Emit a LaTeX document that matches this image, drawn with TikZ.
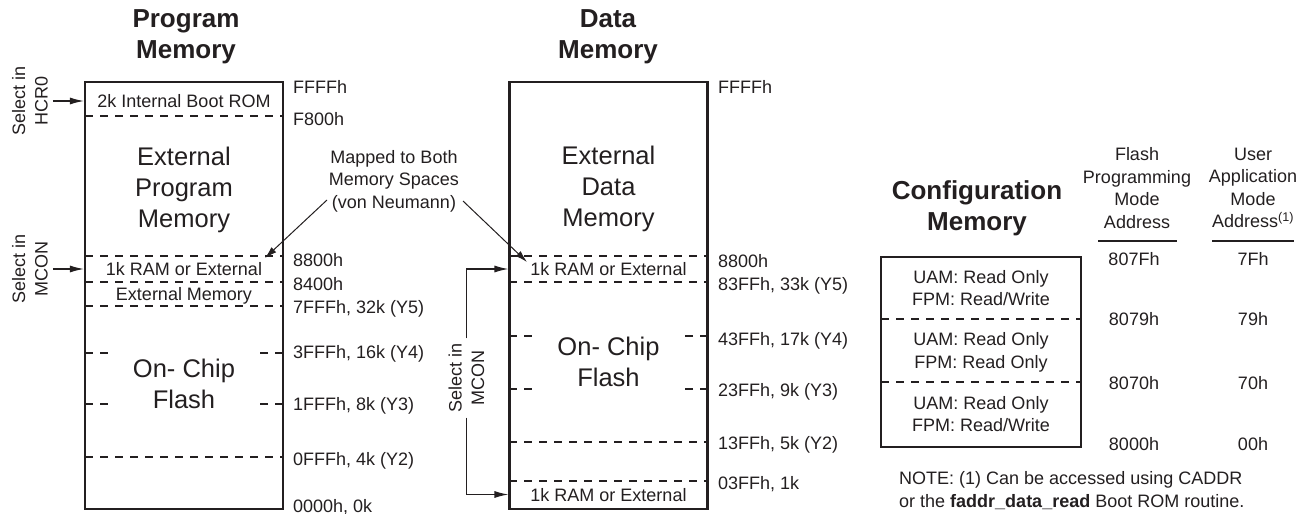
\documentclass[tikz,border=0pt]{standalone}
\usepackage{fontspec}
\setmainfont{Liberation Sans}
\usetikzlibrary{arrows.meta,positioning}
\definecolor{ink}{HTML}{231F20}

\begin{document}
\begin{tikzpicture}[x=1pt,y=-1pt,color=ink,
  txt/.style={font=\fontsize{18}{22.5}\selectfont,inner sep=0pt},
  ctr/.style={txt,anchor=base},
  addr/.style={txt,anchor=base west},
  big/.style={font=\fontsize{25.5}{31}\selectfont,align=center,inner sep=0pt},
  ttl/.style={font=\fontsize{26}{31.5}\selectfont\bfseries,align=center,inner sep=0pt},
  membox/.style={draw,line width=2.2pt,minimum width=198pt,minimum height=427pt,inner sep=0pt},
  dsh/.style={line width=1.6pt,dash pattern=on 8pt off 7pt},
  sel/.style={txt,align=center,rotate=90,outer sep=5pt},
  arr/.style={-{Latex[length=14pt,width=7pt]},line width=1.2pt},
  ptr/.style={-{Latex[length=12pt,width=7pt]},line width=1pt}]
\useasboundingbox (0,0) rectangle (1307,514);
% Program memory
\node[ttl] (ptitle) at (186,37) {Program\\Memory};
\node[membox] (pm) at (184,295.5) {};
\foreach \y in {116,256,282,306,457} \draw[dsh] (85,\y) -- (283,\y);
\foreach \y in {353,404} {\draw[dsh] (85,\y) -- (111,\y); \draw[dsh] (283,\y) -- (257,\y);}
\node[ctr] (boot) at (184,107.5) {2k Internal Boot ROM};
\node[big] (extp) at (184,190) {External\\Program\\Memory};
\node[ctr] (ramp) at (184,275.5) {1k RAM or External};
\node[ctr] (extm) at (184,300.5) {External Memory};
\node[big] (flp) at (184,384) {On- Chip\\Flash};
\foreach \y/\t [count=\i] in {87/FFFFh, 119/F800h, 260/8800h, 284/8400h, 306.5/{7FFFh, 32k (Y5)},
    352/{3FFFh, 16k (Y4)}, 404/{1FFFh, 8k (Y3)}, 459/{0FFFh, 4k (Y2)}, 506/{0000h, 0k}}
  \node[addr] (pa\i) at (293,\y+6.5) {\t};
\node[sel] (hcr) at (30,101) {Select in\\HCR0};
\node[sel] (mconp) at (30,269) {Select in\\MCON};
\draw[arr] (hcr.south) -- (pm.west |- hcr.south);
\draw[arr] (mconp.south) -- (pm.west |- mconp.south);
% Data memory
\node[ttl] (dtitle) at (608,37) {Data\\Memory};
\node[membox] (dm) at (608.5,295.5) {};
\foreach \y in {256,282,442,481} \draw[dsh] (509,\y) -- (708,\y);
\foreach \y in {336,389} {\draw[dsh] (509,\y) -- (535,\y); \draw[dsh] (708,\y) -- (682,\y);}
\node[big] (extd) at (608.5,189) {External\\Data\\Memory};
\node[ctr] (ramd) at (608.5,275.5) {1k RAM or External};
\node[big] (fld) at (608.5,362) {On- Chip\\Flash};
\node[ctr] (ramd2) at (608.5,501) {1k RAM or External};
\foreach \y/\t [count=\i] in {87/FFFFh, 260.5/8800h, 284/{83FFh, 33k (Y5)}, 339/{43FFh, 17k (Y4)},
    389.5/{23FFh, 9k (Y3)}, 443/{13FFh, 5k (Y2)}, 483/{03FFh, 1k}}
  \node[addr] (da\i) at (718,\y+6.5) {\t};
\node[sel] (mcond) at (466.5,378) {Select in\\MCON};
\draw[arr] (mcond.east) |- (dm.west |- 0,269);
\draw[arr] (mcond.west) |- (dm.west |- 0,494.5);
% von Neumann window
\node[txt,align=center] (map) at (394,181) {Mapped to Both\\Memory Spaces\\(von Neumann)};
\coordinate (mapL) at (327,200);
\coordinate (mapR) at (463,201);
\coordinate (tipP) at (265,258);
\coordinate (tipD) at (527,262);
\draw[ptr] (mapL) -- (tipP);
\draw[ptr] (mapR) -- (tipD);
% Configuration memory
\node[ttl] (ctitle) at (977,208.5) {Configuration\\Memory};
\node[draw,line width=2pt,minimum width=200pt,minimum height=190pt,inner sep=0pt] (cfg) at (981,352) {};
\foreach \y in {319,382} \draw[dsh] (881,\y) -- (1081,\y);
\node[txt,align=center] (c1) at (981,288) {UAM: Read Only\\FPM: Read/Write};
\node[txt,align=center] (c2) at (981,352.3) {UAM: Read Only\\FPM: Read Only};
\node[txt,align=center] (c3) at (981,414) {UAM: Read Only\\FPM: Read/Write};
\node[txt,align=center] (fpmh) at (1137,188) {Flash\\Programming\\Mode\\Address};
\node[txt,align=center] (uamh) at (1253,188) {User\\Application\\Mode\\Address\textsuperscript{(1)}};
\draw[line width=1.2pt] (1098,241) -- (1177,241);
\draw[line width=1.2pt] (1212,241) -- (1294,241);
\foreach \y/\a/\b [count=\i] in {259/807Fh/7Fh, 319/8079h/79h, 383/8070h/70h, 444/8000h/00h}
  {\node[ctr] (fa\i) at (1134,\y+6.5) {\a}; \node[ctr] (ua\i) at (1253,\y+6.5) {\b};}
\node[txt,align=left,anchor=west] (note) at (899,490.5) {NOTE: (1) Can be accessed using CADDR\\or the \textbf{faddr\_data\_read} Boot ROM routine.};
\end{tikzpicture}
\end{document}
